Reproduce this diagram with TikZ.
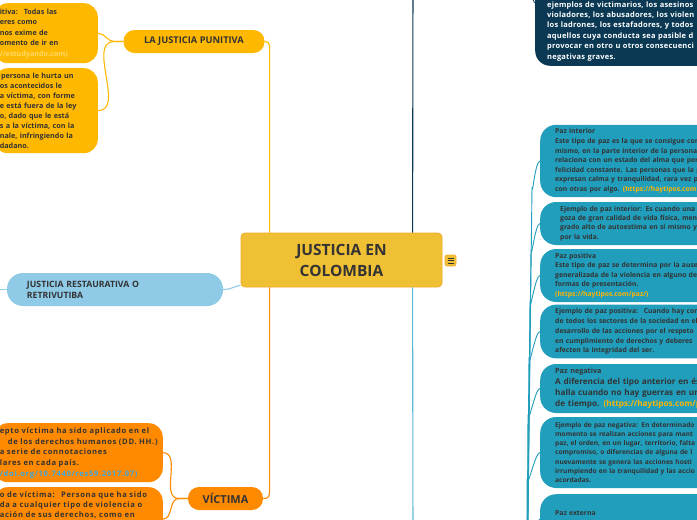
\documentclass[tikz,border=0pt]{standalone}
\usepackage{fontspec}
\setmainfont{Open Sans}
\usetikzlibrary{positioning}
\definecolor{textoOscuro}{HTML}{333333}
\definecolor{dorado}{HTML}{EFBF34}
\definecolor{doradoBorde}{HTML}{F2AC2C}
\definecolor{amarilloP}{HTML}{FFB800}
\definecolor{enlaceP}{HTML}{FFD966}
\definecolor{azulR}{HTML}{8FCAE7}
\definecolor{naranjaV}{HTML}{FF8A00}
\definecolor{enlaceV}{HTML}{3BA6DD}
\definecolor{azulMarino}{HTML}{0B3954}
\definecolor{azulClaro}{HTML}{5DB8D8}
\definecolor{turquesa}{HTML}{219EBC}
\definecolor{enlaceT}{HTML}{FFB400}
\tikzset{
  centro/.style={fill=dorado,draw=doradoBorde,line width=0.8pt,rounded corners=4pt,
    text=textoOscuro,align=center,font=\bfseries\fontsize{15.5}{21}\selectfont},
  subtema/.style={rounded corners=11pt,text=textoOscuro,inner sep=0pt,
    font=\bfseries\fontsize{9.3}{11}\selectfont},
  hoja/.style={rounded corners=14pt,text=textoOscuro,align=left,inner xsep=6pt,inner ysep=4pt,
    font=\bfseries\fontsize{7.2}{10.5}\selectfont},
  hojaT/.style={fill=turquesa,rounded corners=16pt,text=textoOscuro,align=left,anchor=west,
    inner xsep=15pt,inner ysep=4pt,text width=260pt,
    font=\bfseries\fontsize{6.8}{9.6}\selectfont},
  conector/.style={line width=1.1pt},
  conectorT/.style={line width=0.9pt,turquesa}
}
\begin{document}
\begin{tikzpicture}[x=1pt,y=-1pt]
\useasboundingbox (0,0) rectangle (697,520);
\clip (0,0) rectangle (697,520);
\fill[white] (0,0) rectangle (697,520);

% tema central
\node[centro,minimum width=201pt,minimum height=54pt] (cen) at (341.5,260) {JUSTICIA EN\\COLOMBIA};
\node[fill=dorado,draw=doradoBorde,line width=0.6pt,rounded corners=2pt,minimum size=11pt,inner sep=0pt] (nota) at (450.5,260.5) {};
\foreach \dy in {-2.4,0,2.4}
  \draw[textoOscuro,line width=0.6pt] ([xshift=-3pt,yshift=\dy pt]nota.center) -- ++(6,0);

% puntos de salida fuera del cuadro
\coordinate (raizArriba) at (413,-20);
\coordinate (raizAbajo) at (413,540);
\coordinate (raizMarino) at (526,-40);
\coordinate (raizTurquesa) at (527,600);
\coordinate (restHijo) at (-20,289.5);

% la justicia punitiva
\node[subtema,fill=amarilloP,minimum width=141pt,minimum height=23pt] (punitiva) at (194,41.5) {LA JUSTICIA PUNITIVA};
\node[hoja,fill=amarilloP,anchor=north east,text width=92pt,minimum height=60pt] (pun1) at (98,3)
  {itiva:~ Todas las\\eres como\\nos exime de\\omento de ir en\\\textcolor{enlaceP}{//estudyando.com)}};
\node[hoja,fill=amarilloP,anchor=north east,text width=92pt,minimum height=85pt,
  font=\bfseries\fontsize{7.2}{10}\selectfont] (pun2) at (98,68)
  {\,persona le hurta un\\os acontecidos le\\a víctima, con forme\\e está fuera de la ley\\o, dado que le está\\s a la víctima, con la\\nale, infringiendo la\\dadano.};
\draw[conector,amarilloP] ([xshift=29pt]cen.north west) -- ++(0,-175) .. controls +(0,-12) and +(6,0) .. (punitiva.east);
\draw[conector,amarilloP] (punitiva.west) -- ++(-9,0) to[out=180,in=0] (pun1.east);
\draw[conector,amarilloP] (punitiva.west) -- ++(-9,0) to[out=180,in=0] (pun2.east);

% justicia restaurativa
\node[subtema,fill=azulR,rounded corners=16pt,minimum width=216pt,minimum height=33pt,
  align=left,text width=176pt,inner xsep=20pt,font=\bfseries\fontsize{8.7}{11}\selectfont] (rest) at (115,289.5)
  {JUSTICIA RESTAURATIVA O\\RETRIVUTIBA};
\draw[conector,azulR] (rest.east) .. controls +(9,0) and +(-8,1) .. ([yshift=2pt]cen.south west);
\draw[conector,azulR] (rest.west) -- (restHijo);

% victima
\node[subtema,fill=naranjaV,minimum width=75pt,minimum height=23pt,
  font=\bfseries\fontsize{11}{12}\selectfont] (victima) at (225.5,498.5) {VÍCTIMA};
\node[hoja,fill=naranjaV,anchor=north east,text width=157pt,minimum height=59pt,
  font=\bfseries\fontsize{7.6}{10.7}\selectfont\addfontfeature{LetterSpace=9}] (vic1) at (163,423)
  {epto víctima ha sido aplicado en el\\\hspace*{8pt}de los derechos humanos (DD. HH.)\\a serie de connotaciones\\lares en cada país.\\\textcolor{enlaceV}{/doi.org/10.7440/res59.2017.07)}};
\node[hoja,fill=naranjaV,anchor=north east,text width=157pt,text depth=50pt,
  font=\bfseries\fontsize{7.6}{10.3}\selectfont\addfontfeature{LetterSpace=9}] (vic2) at (163,487)
  {o de víctima:~ Persona que ha sido\\da a cualquier tipo de violencia o\\ación de sus derechos, como en};
\draw[conector,naranjaV] ([xshift=29pt]cen.south west) -- ++(0,198) .. controls +(0,12) and +(6,0) .. (victima.east);
\draw[conector,naranjaV] (victima.west) -- ++(-9,0) to[out=180,in=0] (vic1.east);
\draw[conector,naranjaV] (victima.west) -- ++(-9,0) to[out=180,in=0] (vic2.east);

% ramas que salen del cuadro
\draw[conector,azulMarino] ([xshift=172pt]cen.north west) -- (raizArriba);
\draw[conector,azulClaro] ([xshift=172pt]cen.south west) -- (raizAbajo);

% victimarios
\node[hoja,fill=azulMarino,text=white,rounded corners=15pt,anchor=south west,inner xsep=12pt,inner ysep=5pt,
  text width=200pt,text height=62pt,font=\bfseries\fontsize{7.5}{10.4}\selectfont\addfontfeature{LetterSpace=3}] (victimarios) at (535,66)
  {ejemplos de victimarios, los asesinos\\violadores, los abusadores, los violen\\los ladrones, los estafadores, y todos\\aquellos cuya conducta sea pasible d\\provocar en otro u otros consecuenci\\negativas graves.};
\draw[conector,azulMarino,line width=0.8pt] (raizMarino) -- ++(0,-30) .. controls +(0,-7) and +(-5,0) .. (victimarios.west);

% tipos de paz
\node[hojaT,minimum height=72pt] (paz1) at (540,161)
  {Paz interior\\Este tipo de paz es la que se consigue con\\mismo, en la parte interior de la persona\\relaciona con un estado del alma que per\\felicidad constante. Las personas que la p\\expresan calma y tranquilidad, rara vez p\\con otras por algo. \textcolor{enlaceT}{(https://haytipos.com}};
\node[hojaT,minimum height=43pt,inner xsep=20pt,font=\bfseries\fontsize{6.8}{9.4}\selectfont] (paz2) at (540,223.5)
  {Ejemplo de paz interior: Es cuando una\\goza de gran calidad de vida física, men\\grado alto de autoestima en sí mismo y\\por la vida.};
\node[hojaT,minimum height=53pt,font=\bfseries\fontsize{6.8}{9.5}\selectfont] (paz3) at (540,275.5)
  {Paz positiva\\Este tipo de paz se determina por la ause\\generalizada de la violencia en alguno de\\formas de presentación.\\\textcolor{enlaceT}{(https://haytipos.com/paz/)}};
\node[hojaT,minimum height=53pt,font=\bfseries\fontsize{6.8}{9.75}\selectfont] (paz4) at (540,331.5)
  {Ejemplo de paz positiva:~ Cuando hay con\\de todos los sectores de la sociedad en el\\desarrollo de las acciones por el respeto\\en cumplimiento de derechos y deberes\\afecten la integridad del ser.};
\node[hojaT,minimum height=49pt,font=\bfseries\fontsize{8.2}{11}\selectfont] (paz5) at (540,388.5)
  {{\fontsize{7.2}{11}\selectfont Paz negativa}\\A diferencia del tipo anterior en ést\\halla cuando no hay guerras en un\\de tiempo. \textcolor{enlaceT}{(https://haytipos.com/pa}};
\node[hojaT,minimum height=71pt,font=\bfseries\fontsize{6.6}{9.3}\selectfont] (paz6) at (540,452.5)
  {Ejemplo de paz negativa: En determinado\\momento se realizan acciones para mant\\paz, el orden, en un lugar, territorio, falta\\compromiso, o diferencias de alguna de l\\nuevamente se genera las acciones hosti\\irrumpiendo en la tranquilidad y las accio\\acordadas.};
\node[hojaT,anchor=north west,minimum height=50pt,font=\bfseries\fontsize{6.8}{10}\selectfont] (paz7) at (540,494)
  {Paz externa\\Este tipo de paz es alcanzada a partir de};
\foreach \n/\dx in {paz1/8,paz2/9,paz3/10,paz4/11,paz5/12,paz6/13,paz7/14}
  \draw[conectorT] (raizTurquesa) -- ([xshift=-\dx pt,yshift=-26pt]\n.west) .. controls +(0,14) and +(-5,0) .. (\n.west);
\end{tikzpicture}
\end{document}
